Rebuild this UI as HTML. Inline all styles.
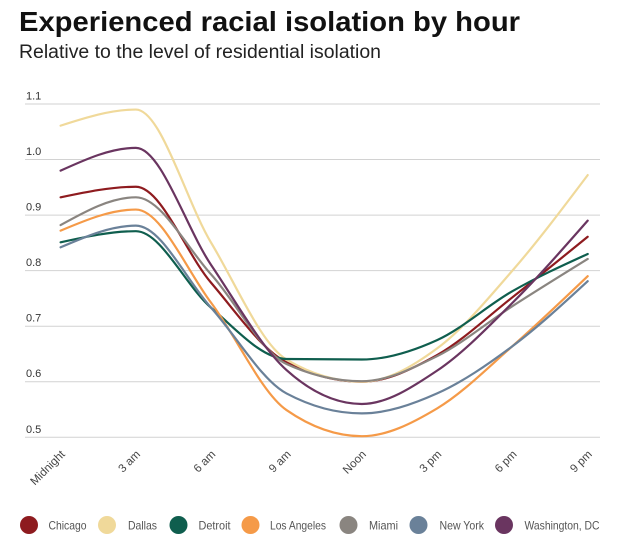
<!DOCTYPE html>
<html>
<head>
<meta charset="utf-8">
<style>
  html, body { margin: 0; padding: 0; background: #ffffff; }
  body { width: 620px; height: 549px; overflow: hidden; }
  svg { display: block; }
  text { font-family: "Liberation Sans", "DejaVu Sans", sans-serif; }
</style>
</head>
<body>
<svg width="620" height="549" viewBox="0 0 620 549" xmlns="http://www.w3.org/2000/svg">
  <rect width="620" height="549" fill="#ffffff"/>

  <!-- Title & subtitle -->
  <text x="19" y="31" font-size="28" font-weight="bold" fill="#111111" textLength="501" lengthAdjust="spacingAndGlyphs">Experienced racial isolation by hour</text>
  <text x="19" y="58" font-size="19" fill="#222222" textLength="362" lengthAdjust="spacingAndGlyphs">Relative to the level of residential isolation</text>

  <!-- Gridlines -->
  <g stroke="#d2d2d2" stroke-width="1">
    <line x1="25" y1="104" x2="600" y2="104"/>
    <line x1="25" y1="159.55" x2="600" y2="159.55"/>
    <line x1="25" y1="215.1" x2="600" y2="215.1"/>
    <line x1="25" y1="270.65" x2="600" y2="270.65"/>
    <line x1="25" y1="326.2" x2="600" y2="326.2"/>
    <line x1="25" y1="381.75" x2="600" y2="381.75"/>
    <line x1="25" y1="437.3" x2="600" y2="437.3"/>
  </g>

  <!-- Y labels -->
  <g font-size="11" fill="#333333">
    <text x="26" y="99.5">1.1</text>
    <text x="26" y="155">1.0</text>
    <text x="26" y="210.6">0.9</text>
    <text x="26" y="266.1">0.8</text>
    <text x="26" y="321.7">0.7</text>
    <text x="26" y="377.2">0.6</text>
    <text x="26" y="432.8">0.5</text>
  </g>

  <!-- X labels -->
  <g font-size="11.5" fill="#444444" text-anchor="end">
    <text transform="translate(65.6,455) rotate(-45)">Midnight</text>
    <text transform="translate(140.9,455) rotate(-45)">3 am</text>
    <text transform="translate(216.2,455) rotate(-45)">6 am</text>
    <text transform="translate(291.5,455) rotate(-45)">9 am</text>
    <text transform="translate(366.8,455) rotate(-45)">Noon</text>
    <text transform="translate(442.1,455) rotate(-45)">3 pm</text>
    <text transform="translate(517.4,455) rotate(-45)">6 pm</text>
    <text transform="translate(592.7,455) rotate(-45)">9 pm</text>
  </g>

  <!-- Series -->
  <g fill="none" stroke-width="2.2" stroke-linecap="round" stroke-linejoin="round">
    <!-- Chicago -->
    <path stroke="#8e1b1f" d="M60.6,197.32 C85.7,192.05 110.8,186.77 135.9,186.77 C161.0,186.77 186.1,253.61 211.2,282.87 C236.3,312.13 261.4,349.35 286.5,362.31 C311.6,375.27 336.7,381.75 361.8,381.75 C386.9,381.75 412.0,369.16 437.1,355.09 C462.2,341.01 487.3,317.04 512.4,297.31 C537.5,277.59 562.6,257.18 587.7,236.76"/>
    <!-- Dallas -->
    <path stroke="#f0d99a" d="M60.6,125.66 C85.7,117.61 110.8,109.55 135.9,109.55 C161.0,109.55 186.1,201.21 211.2,242.87 C236.3,284.54 261.4,344.72 286.5,359.53 C311.6,374.34 336.7,381.75 361.8,381.75 C386.9,381.75 412.0,366.94 437.1,348.42 C462.2,329.90 487.3,299.54 512.4,270.65 C537.5,241.76 562.6,208.43 587.7,175.10"/>
    <!-- Detroit -->
    <path stroke="#0f5e4e" d="M60.6,242.32 C85.7,236.76 110.8,231.21 135.9,231.21 C161.0,231.21 186.1,286.57 211.2,307.87 C236.3,329.16 261.4,358.60 286.5,358.97 C311.6,359.34 336.7,359.53 361.8,359.53 C386.9,359.53 412.0,351.48 437.1,340.09 C462.2,328.70 487.3,305.55 512.4,291.20 C537.5,276.85 562.6,265.42 587.7,253.98"/>
    <!-- Los Angeles -->
    <path stroke="#f59a48" d="M60.6,230.65 C85.7,220.10 110.8,209.54 135.9,209.54 C161.0,209.54 186.1,269.45 211.2,302.87 C236.3,336.29 261.4,392.67 286.5,410.08 C311.6,427.49 336.7,436.19 361.8,436.19 C386.9,436.19 412.0,423.41 437.1,408.41 C462.2,393.42 487.3,368.23 512.4,346.20 C537.5,324.16 562.6,300.18 587.7,276.20"/>
    <!-- Miami -->
    <path stroke="#8a8580" d="M60.6,225.10 C85.7,211.21 110.8,197.32 135.9,197.32 C161.0,197.32 186.1,246.76 211.2,274.54 C236.3,302.31 261.4,352.49 286.5,363.97 C311.6,375.45 336.7,381.19 361.8,381.19 C386.9,381.19 412.0,368.70 437.1,356.20 C462.2,343.70 487.3,322.40 512.4,306.20 C537.5,290.00 562.6,274.49 587.7,258.98"/>
    <!-- New York -->
    <path stroke="#6a8199" d="M60.6,247.32 C85.7,236.49 110.8,225.65 135.9,225.65 C161.0,225.65 186.1,279.91 211.2,307.87 C236.3,335.83 261.4,380.08 286.5,393.42 C311.6,406.75 336.7,413.41 361.8,413.41 C386.9,413.41 412.0,404.62 437.1,393.42 C462.2,382.21 487.3,364.90 512.4,346.20 C537.5,327.50 562.6,304.35 587.7,281.20"/>
    <!-- Washington, DC -->
    <path stroke="#6a3560" d="M60.6,170.66 C85.7,159.27 110.8,147.88 135.9,147.88 C161.0,147.88 186.1,228.06 211.2,265.09 C236.3,302.13 261.4,347.49 286.5,370.08 C311.6,392.67 336.7,403.97 361.8,403.97 C386.9,403.97 412.0,387.49 437.1,370.64 C462.2,353.79 487.3,327.87 512.4,302.87 C537.5,277.87 562.6,249.26 587.7,220.65"/>
  </g>

  <!-- Legend -->
  <g>
    <circle cx="29" cy="525" r="9" fill="#8e1b1f"/>
    <circle cx="107" cy="525" r="9" fill="#f0d99a"/>
    <circle cx="178.5" cy="525" r="9" fill="#0f5e4e"/>
    <circle cx="250.5" cy="525" r="9" fill="#f59a48"/>
    <circle cx="348.5" cy="525" r="9" fill="#8a8580"/>
    <circle cx="418.5" cy="525" r="9" fill="#6a8199"/>
    <circle cx="504" cy="525" r="9" fill="#6a3560"/>
  </g>
  <g font-size="12" fill="#555555">
    <text x="48.5" y="529.5" textLength="38" lengthAdjust="spacingAndGlyphs">Chicago</text>
    <text x="128" y="529.5" textLength="29" lengthAdjust="spacingAndGlyphs">Dallas</text>
    <text x="198.5" y="529.5" textLength="32" lengthAdjust="spacingAndGlyphs">Detroit</text>
    <text x="270" y="529.5" textLength="56" lengthAdjust="spacingAndGlyphs">Los Angeles</text>
    <text x="369" y="529.5" textLength="29" lengthAdjust="spacingAndGlyphs">Miami</text>
    <text x="439.5" y="529.5" textLength="44.5" lengthAdjust="spacingAndGlyphs">New York</text>
    <text x="524.5" y="529.5" textLength="75" lengthAdjust="spacingAndGlyphs">Washington, DC</text>
  </g>
</svg>
</body>
</html>
